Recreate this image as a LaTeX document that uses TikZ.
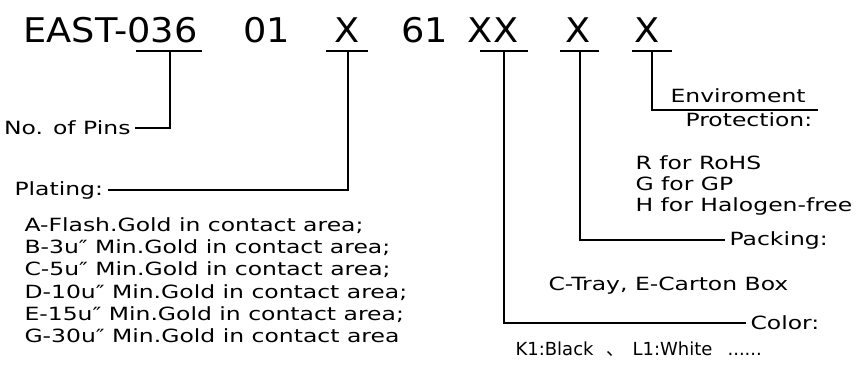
\documentclass[tikz,border=0pt]{standalone}
\usepackage{fontspec}
\setmainfont{DejaVu Sans}[FakeStretch=1.29]
\newfontfamily\titlefont{DejaVu Sans}[FakeStretch=1.08]
\newfontfamily\plainfont{DejaVu Sans}
\newfontfamily\cjk{Noto Sans CJK SC}
\usetikzlibrary{positioning,calc}

\begin{document}
\begin{tikzpicture}[x=1pt, y=-1pt, line width=1.1pt,
    every node/.style={font=\fontsize{18.2}{21}\selectfont, inner sep=0pt},
    code/.style={font=\titlefont\fontsize{34}{40}\selectfont, anchor=base},
    lbl/.style={inner sep=4pt},
    narrow/.style={font=\plainfont\fontsize{18}{21}\selectfont, anchor=base west}]
  \useasboundingbox (0,0) rectangle (865,366);

  % Part number
  \node[code, anchor=base west] (east) at (23,43) {EAST-036};
  \node[code] (ser) at (267,43) {01};
  \node[code] (plat) at (347,43) {X};
  \node[code] (typ) at (425,43) {61};
  \node[code] (col) at (493,43) {XX};
  \node[code] (pack) at (578,43) {X};
  \node[code] (env) at (647,43) {X};

  % Underlines
  \foreach \a/\m/\b/\n in {136/170/202/pinU, 326/348/368/platU,
      480/504/528/colU, 560/580/599/packU, 632/652/672/envU}{
    \draw (\a,51) -- (\b,51);
    \coordinate (\n) at (\m,51);
  }

  % No. of pins
  \node[lbl, anchor=east] (pins) at (135,128) {No. of Pins};
  \draw (pinU) |- (pins.east);

  % Plating
  \node[lbl, anchor=west] (plating) at (10,190) {Plating:};
  \draw (platU) |- (plating.east);
  \foreach \t [count=\i] in {A-Flash.Gold in contact area;,
      B-3u″ Min.Gold in contact area;, C-5u″ Min.Gold in contact area;,
      D-10u″ Min.Gold in contact area;, E-15u″ Min.Gold in contact area;,
      G-30u″ Min.Gold in contact area}
    \node[anchor=base west] (plate\i) at (24,209.3+22.2*\i) {\t};

  % Color
  \node[lbl, anchor=west] (color) at (746,323) {Color:};
  \draw (colU) |- (color.west);
  \node[narrow] (k1) at (515,355.5) {K1:Black};
  \node[narrow, font=\cjk\fontsize{18}{21}\selectfont] (sep) at (606,355.5) {、};
  \node[narrow] (l1) at (632,355.5) {L1:White};
  \node[narrow] (more) at (727,355.5) {......};

  % Packing
  \node[lbl, anchor=west] (packing) at (725,240) {Packing:};
  \draw (packU) |- (packing.west);
  \node[anchor=base west] (tray) at (548,290.5) {C-Tray, E-Carton Box};

  % Enviroment protection
  \coordinate (envEnd) at (818,110);
  \draw (envU) |- (envEnd);
  \node[anchor=base west] (envA) at (670,103) {Enviroment};
  \node[anchor=base west] (envB) at (685,127) {Protection:};
  \foreach \t [count=\i] in {R for RoHS, G for GP, H for Halogen-free}
    \node[anchor=base west] (rohs\i) at (635,148.5+21*\i) {\t};
\end{tikzpicture}
\end{document}
